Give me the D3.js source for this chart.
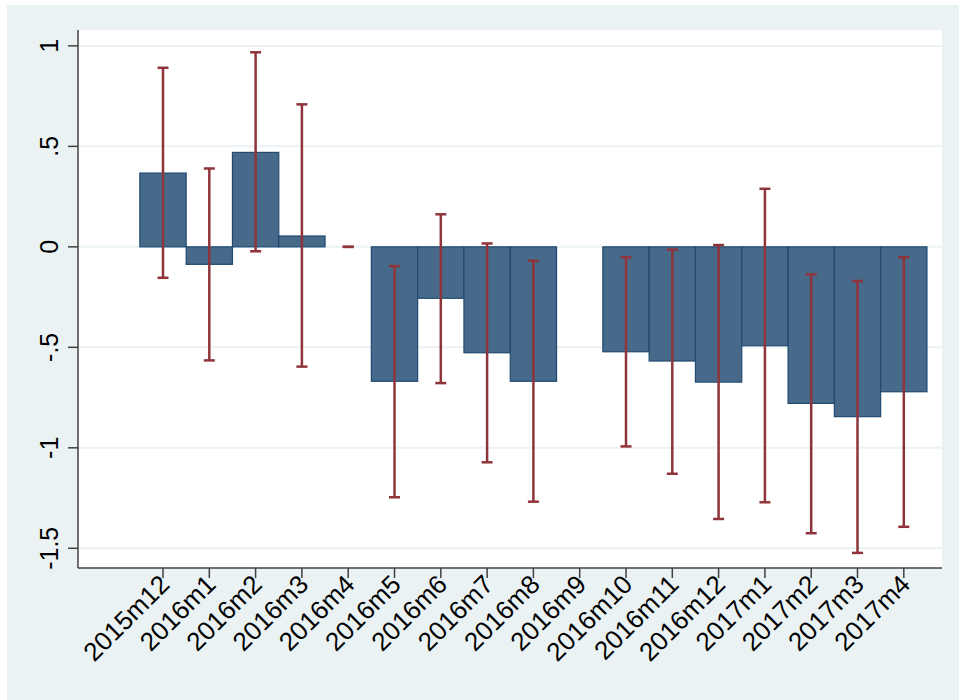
<!DOCTYPE html>
<html>
<head>
<meta charset="utf-8">
<script src="https://cdn.jsdelivr.net/npm/d3@7"></script>
<style>
  body { margin: 0; background: #fff; }
  text { font-family: "Liberation Sans", Arial, sans-serif; fill: #000; }
</style>
</head>
<body>
<script>
// months on the x axis
let months = ["2015m12", "2016m1", "2016m2", "2016m3", "2016m4", "2016m5", "2016m6",
  "2016m7", "2016m8", "2016m9", "2016m10", "2016m11", "2016m12", "2017m1",
  "2017m2", "2017m3", "2017m4"];
// point estimates (null = missing)
let coef = [0.367, -0.087, 0.47, 0.054, 0, -0.669, -0.256, -0.527, -0.669, null,
  -0.522, -0.568, -0.673, -0.492, -0.779, -0.845, -0.721];
// confidence interval bounds
let ciLow = [-0.154, -0.565, -0.022, -0.596, 0, -1.246, -0.678, -1.072, -1.268, null,
  -0.993, -1.129, -1.354, -1.271, -1.425, -1.523, -1.393];
let ciHigh = [0.891, 0.39, 0.968, 0.709, 0, -0.0955, 0.162, 0.017, -0.069, null,
  -0.052, -0.014, 0.009, 0.289, -0.137, -0.170, -0.052];
let yTicks = [1, 0.5, 0, -0.5, -1, -1.5];
let yTickLabels = ["1", ".5", "0", "-.5", "-1", "-1.5"];

let width = 959,
    height = 700;
let plot = {left: 78, right: 942, top: 30, bottom: 568};

let svg = d3.select("body").append("svg")
    .attr("width", width).attr("height", height);

// outer graph region
svg.append("rect")
    .attr("x", 7).attr("y", 5)
    .attr("width", width - 7).attr("height", height - 5)
    .attr("fill", "#eaf2f3");

svg.append("rect")
    .attr("x", plot.left).attr("y", plot.top)
    .attr("width", plot.right - plot.left).attr("height", plot.bottom - plot.top)
    .attr("fill", "#fff");

let x = d3.scaleLinear()
    .domain([-1.836, 16.825])
    .range([plot.left, plot.right]);
let step = x(1) - x(0);

let y = d3.scaleLinear()
    .domain([-1.598, 1.079])
    .range([plot.bottom, plot.top]);

// grid
svg.append("g").selectAll("line")
    .data(yTicks)
    .enter().append("line")
    .attr("x1", plot.left).attr("x2", plot.right)
    .attr("y1", d => y(d)).attr("y2", d => y(d))
    .attr("stroke", "#eaf2f3").attr("stroke-width", 2);

// bars
let rows = months.map((m, i) => ({m: m, i: i, b: coef[i], lo: ciLow[i], hi: ciHigh[i]}));

svg.append("g").selectAll("rect")
    .data(rows.filter(d => d.b !== null && d.b !== 0))
    .enter().append("rect")
    .attr("x", d => x(d.i) - step / 2)
    .attr("width", step)
    .attr("y", d => y(Math.max(0, d.b)))
    .attr("height", d => Math.abs(y(d.b) - y(0)))
    .attr("fill", "#476a8a")
    .attr("stroke", "#1f4a70")
    .attr("stroke-width", 1.2);

// confidence intervals
let ci = svg.append("g").selectAll("g")
    .data(rows.filter(d => d.lo !== null))
    .enter().append("g")
    .attr("stroke", "#8f343b")
    .attr("stroke-width", 2.5);

ci.append("line")
    .attr("x1", d => x(d.i)).attr("x2", d => x(d.i))
    .attr("y1", d => y(d.lo)).attr("y2", d => y(d.hi));
ci.append("line")
    .attr("x1", d => x(d.i) - 5.5).attr("x2", d => x(d.i) + 5.5)
    .attr("y1", d => y(d.lo)).attr("y2", d => y(d.lo));
ci.append("line")
    .attr("x1", d => x(d.i) - 5.5).attr("x2", d => x(d.i) + 5.5)
    .attr("y1", d => y(d.hi)).attr("y2", d => y(d.hi));

// y axis
let yAxis = svg.append("g");
yAxis.append("line")
    .attr("x1", plot.left).attr("x2", plot.left)
    .attr("y1", plot.top).attr("y2", plot.bottom)
    .attr("stroke", "#404040").attr("stroke-width", 1.5);
yAxis.selectAll(".tick")
    .data(yTicks)
    .enter().append("line")
    .attr("x1", plot.left - 10).attr("x2", plot.left)
    .attr("y1", d => y(d)).attr("y2", d => y(d))
    .attr("stroke", "#404040").attr("stroke-width", 1.5);
yAxis.selectAll("text")
    .data(yTicks)
    .enter().append("text")
    .attr("transform", d => "translate(58," + y(d) + ") rotate(-90)")
    .attr("text-anchor", "middle")
    .style("font-size", "25px")
    .text((d, i) => yTickLabels[i]);

// x axis
let xAxis = svg.append("g");
xAxis.append("line")
    .attr("x1", plot.left).attr("x2", plot.right)
    .attr("y1", plot.bottom).attr("y2", plot.bottom)
    .attr("stroke", "#404040").attr("stroke-width", 1.5);
xAxis.selectAll(".tick")
    .data(rows)
    .enter().append("line")
    .attr("x1", d => x(d.i)).attr("x2", d => x(d.i))
    .attr("y1", plot.bottom).attr("y2", plot.bottom + 10)
    .attr("stroke", "#404040").attr("stroke-width", 1.5);
xAxis.selectAll("text")
    .data(rows)
    .enter().append("text")
    .attr("transform", d => "translate(" + (x(d.i) + 8) + "," + (plot.bottom + 18) + ") rotate(-45)")
    .attr("text-anchor", "end")
    .style("font-size", "26px")
    .text(d => d.m);
</script>
</body>
</html>
